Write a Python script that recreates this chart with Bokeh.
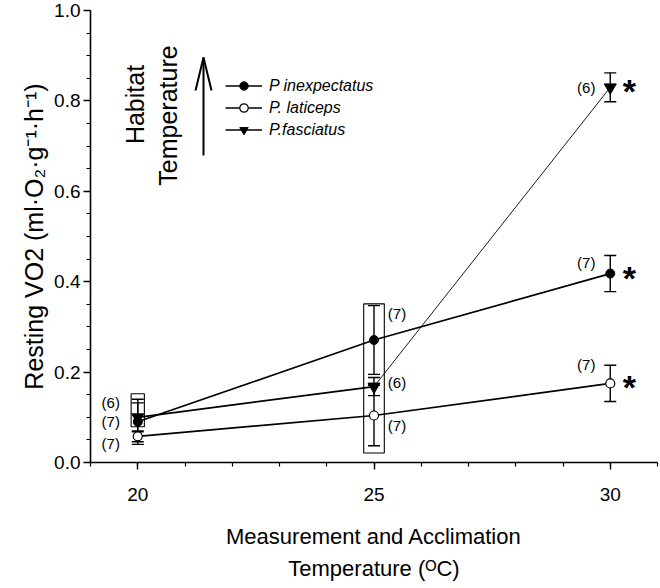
import math
from bokeh.plotting import figure
from bokeh.models import (Range1d, FixedTicker, Label, Whisker, TeeHead,
                          ColumnDataSource, Legend, LegendItem, LinearAxis)
from bokeh.core.properties import value
from bokeh.embed import file_html
from bokeh.resources import INLINE

# ---------------- data ----------------
temps = [20, 25, 30]
inexp_mean = [0.090, 0.271, 0.418]
inexp_err = [0.050, 0.076, 0.040]
latic_mean = [0.058, 0.104, 0.175]
latic_err = [0.012, 0.067, 0.040]
fasc_mean = [0.100, 0.168, 0.830]
fasc_err = [0.032, 0.020, 0.032]
n_inexp = ["(7)", "(7)", "(7)"]
n_latic = ["(7)", "(7)", "(7)"]
n_fasc = ["(6)", "(6)", "(6)"]
signif = ["", "", "*"]

box_x = [20, 25]
box_half = [0.14, 0.218]
box_lo = [0.079, 0.021]
box_hi = [0.152, 0.351]

xtick_values = [20, 25, 30]
xtick_labels = ["20", "25", "30"]
ytick_values = [0.0, 0.2, 0.4, 0.6, 0.8, 1.0]
ytick_labels = ["0.0", "0.2", "0.4", "0.6", "0.8", "1.0"]
series_names = ["P inexpectatus", "P. laticeps", "P.fasciatus"]
x_title_1 = "Measurement and Acclimation"
x_title_2 = "Temperature (\u1d3cC)"
y_title = "Resting VO2 (ml\u00b7O\u2082\u00b7g\u207b\u00b9\u00b7h\u207b\u00b9)"
habitat_1 = "Habitat"
habitat_2 = "Temperature"

# ---------------- layout (page pixels) ----------------
FONT = "Liberation Sans"
FL, FR, FT, FB = 90, 657, 10, 462
X0, X1, Y0, Y1 = 19, 31, 0.0, 1.0
W, H = 660, 588


def dx(px):
    return X0 + (px - FL) * (X1 - X0) / (FR - FL)


def dy(py):
    return Y0 + (FB - py) * (Y1 - Y0) / (FB - FT)


p = figure(frame_width=FR - FL, frame_height=FB - FT,
           min_border_left=FL, min_border_right=W - FR,
           min_border_top=FT, min_border_bottom=H - FB,
           x_range=Range1d(X0, X1), y_range=Range1d(Y0, Y1),
           output_backend="svg", toolbar_location=None)
p.background_fill_color = "white"
p.border_fill_color = "white"
p.outline_line_color = None
p.xgrid.visible = False
p.ygrid.visible = False

p.xaxis.ticker = FixedTicker(ticks=xtick_values,
                             minor_ticks=list(range(X0, X1 + 1)))
p.xaxis.major_label_overrides = dict(zip(xtick_values, xtick_labels))
p.yaxis.ticker = FixedTicker(ticks=ytick_values,
                             minor_ticks=[round(i * 0.05, 2) for i in range(21)])
p.yaxis.major_label_overrides = dict(zip(ytick_values, ytick_labels))
for ax in (p.xaxis, p.yaxis):
    ax.axis_line_width = 1.6
    ax.axis_line_color = "black"
    ax.major_tick_line_width = 1.4
    ax.minor_tick_line_width = 1.2
    ax.major_tick_line_color = "black"
    ax.minor_tick_line_color = "black"
    ax.major_tick_in = 0
    ax.major_tick_out = 7
    ax.minor_tick_in = 0
    ax.minor_tick_out = 4
    ax.major_label_text_font = FONT
    ax.major_label_text_font_size = "19px"
    ax.major_label_text_color = "black"
    ax.axis_label_text_font = FONT
    ax.axis_label_text_font_style = "normal"
    ax.axis_label_text_color = "black"
p.xaxis.major_label_standoff = 18
p.yaxis.major_label_standoff = 3

p.xaxis.axis_label = x_title_1
p.xaxis.axis_label_text_font_size = "22px"
p.xaxis.axis_label_standoff = 20

p.yaxis.axis_label = y_title
p.yaxis.axis_label_text_font_size = "25px"
p.yaxis.axis_label_standoff = 3

x2 = LinearAxis(ticker=FixedTicker(ticks=[]), axis_label=x_title_2,
                axis_line_color=None, major_tick_line_color=None,
                minor_tick_line_color=None, major_label_text_font_size="0px",
                axis_label_standoff=4, axis_label_text_font=FONT,
                axis_label_text_font_size="22px",
                axis_label_text_font_style="normal",
                axis_label_text_color="black")
p.add_layout(x2, "below")

# ---------------- boxes ----------------
p.quad(left=[b - h for b, h in zip(box_x, box_half)],
       right=[b + h for b, h in zip(box_x, box_half)],
       bottom=box_lo, top=box_hi, fill_color=None,
       line_color="black", line_width=1.1)

# ---------------- lines ----------------
r_inexp_line = p.line(temps, inexp_mean, line_color="black", line_width=1.7)
r_latic_line = p.line(temps, latic_mean, line_color="black", line_width=1.7)
r_fasc_line = p.line(temps[:2], fasc_mean[:2], line_color="black", line_width=1.7)
p.line(temps[1:], fasc_mean[1:], line_color="black", line_width=0.9)

# ---------------- error bars ----------------
for mean, err in ((inexp_mean, inexp_err), (latic_mean, latic_err), (fasc_mean, fasc_err)):
    src = ColumnDataSource(dict(x=temps,
                                lo=[m - e for m, e in zip(mean, err)],
                                hi=[m + e for m, e in zip(mean, err)]))
    p.add_layout(Whisker(source=src, base="x", lower="lo", upper="hi",
                         dimension="height", line_color="black", line_width=1.4,
                         upper_head=TeeHead(size=12, line_width=1.4, line_color="black"),
                         lower_head=TeeHead(size=12, line_width=1.4, line_color="black")))

# ---------------- markers ----------------
r_inexp = p.scatter(temps, inexp_mean, marker="circle", size=9,
                    fill_color="black", line_color="black", line_width=1)
r_latic = p.scatter(temps, latic_mean, marker="circle", size=9,
                    fill_color="white", line_color="black", line_width=1.2)
r_fasc = p.scatter(temps, fasc_mean, marker="inverted_triangle", size=12,
                   fill_color="black", line_color="black", line_width=1)

# ---------------- n labels ----------------
n_dx = {20: -27, 25: 23, 30: -24}
n_dy_inexp = [0, -27, -11]
n_dy_latic = [7, 10, -19]
n_dy_fasc = [-15, -4, 0]
for mean, labels, offs in ((inexp_mean, n_inexp, n_dy_inexp),
                           (latic_mean, n_latic, n_dy_latic),
                           (fasc_mean, n_fasc, n_dy_fasc)):
    src = ColumnDataSource(dict(x=temps, y=mean, t=labels,
                                xo=[n_dx[t] for t in temps], yo=offs))
    p.text(x="x", y="y", text="t", x_offset="xo", y_offset="yo", source=src,
           text_font=value(FONT), text_font_size="15px", text_color="black",
           text_align="center", text_baseline="middle")

# ---------------- significance stars ----------------
for mean in (inexp_mean, latic_mean, fasc_mean):
    src = ColumnDataSource(dict(x=temps, y=mean, t=signif))
    p.text(x="x", y="y", text="t", source=src, x_offset=19, y_offset=4,
           text_font=value(FONT), text_font_size="34px", text_font_style="bold",
           text_color="black", text_align="center", text_baseline="alphabetic")

# ---------------- legend ----------------
legend = Legend(items=[
    LegendItem(label=series_names[0], renderers=[r_inexp_line, r_inexp]),
    LegendItem(label=series_names[1], renderers=[r_latic_line, r_latic]),
    LegendItem(label=series_names[2], renderers=[r_fasc_line, r_fasc]),
], location=(225 - FL, FB - 140), orientation="vertical",
    glyph_width=37, glyph_height=21, label_height=21, spacing=1,
    label_standoff=7, padding=0, margin=0, border_line_color=None,
    background_fill_color=None, background_fill_alpha=0,
    label_text_font=FONT, label_text_font_size="16px",
    label_text_font_style="italic", label_text_color="black")
p.add_layout(legend, "center")

# ---------------- habitat arrow ----------------
ax_px = 203
p.multi_line(xs=[[dx(ax_px), dx(ax_px)], [dx(195), dx(ax_px), dx(211)]],
             ys=[[dy(155), dy(57)], [dy(90), dy(57), dy(90)]],
             line_color="black", line_width=2)


def lab(text, px, py, size, angle=0.0, align="left", baseline="alphabetic"):
    p.add_layout(Label(x=dx(px), y=dy(py), text=text, angle=angle,
                       text_font=FONT, text_font_size=f"{size}px",
                       text_color="black",
                       text_align=align, text_baseline=baseline))


lab(habitat_1, 134, 104, 25, angle=math.pi / 2, align="center")
lab(habitat_2, 167, 115, 25, angle=math.pi / 2, align="center")

open("out.html", "w").write(file_html(p, INLINE))
